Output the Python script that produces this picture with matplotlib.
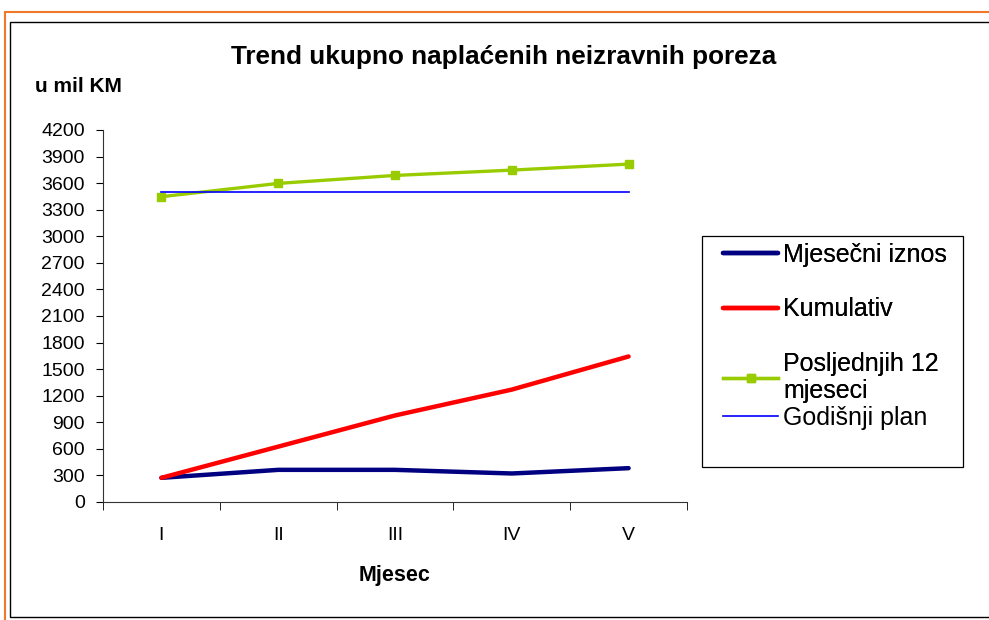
import matplotlib.pyplot as plt
from matplotlib.patches import Rectangle

plt.rcParams['font.family'] = ['Liberation Sans', 'DejaVu Sans']

months = ['I', 'II', 'III', 'IV', 'V']
mjesecni = [273, 363, 363, 322, 382]
kumulativ = [273, 625, 977, 1269, 1643]
posljednjih12 = [3447, 3597, 3687, 3747, 3815]
plan = [3500, 3500, 3500, 3500, 3500]
yticks = list(range(0, 4201, 300))

W, H = 989, 620
fig = plt.figure(figsize=(W / 100, H / 100), dpi=100)

# outer frames (orange page frame, black chart frame)
fig.patches.append(Rectangle((5 / W, -0.1), 1.2, 1 - 12 / H + 0.1, transform=fig.transFigure,
                             fill=False, edgecolor='#f07828', linewidth=1.5))
fig.patches.append(Rectangle((10 / W, 3 / H), 1.2, 1 - 25 / H, transform=fig.transFigure,
                             fill=False, edgecolor='black', linewidth=1.0))

ax = fig.add_axes([103 / W, 1 - 502 / H, 584 / W, 372 / H])
x = list(range(1, len(months) + 1))
l1, = ax.plot(x, mjesecni, color='#000080', lw=3.2, solid_capstyle='round', label='Mjesečni iznos')
l2, = ax.plot(x, kumulativ, color='#ff0000', lw=3.2, solid_capstyle='round', label='Kumulativ')
l3, = ax.plot(x, posljednjih12, color='#99cc00', lw=2.4, marker='s', ms=5.5,
              label='Posljednjih 12\nmjeseci')
l4, = ax.plot(x, plan, color='#0000ff', lw=1.2, label='Godišnji plan')

ax.set_xlim(0.5, len(months) + 0.5)
ax.set_ylim(0, 4200)
ax.set_yticks(yticks)
ax.tick_params(axis='y', labelsize=14, length=5, direction='out', pad=8)
ax.set_xticks(x)
ax.set_xticklabels(months)
ax.set_xticks([i + 0.5 for i in range(len(months) + 1)], minor=True)
ax.tick_params(axis='x', which='major', length=0, labelsize=14, pad=18)
ax.tick_params(axis='x', which='minor', length=6, direction='out')
for s in ['top', 'right']:
    ax.spines[s].set_visible(False)
for s in ['left', 'bottom']:
    ax.spines[s].set_color('#333333')

fig.text(504 / W, 1 - 57 / H, 'Trend ukupno naplaćenih neizravnih poreza',
         ha='center', va='center', fontsize=18.8, fontweight='bold')
fig.text(35 / W, 1 - 87 / H, 'u mil KM', ha='left', va='center', fontsize=15, fontweight='bold')
fig.text(395 / W, 1 - 575 / H, 'Mjesec', ha='center', va='center', fontsize=15.5, fontweight='bold')

# legend: frame drawn separately, entries in two groups like the original spacing
fig.patches.append(Rectangle((702 / W, 1 - 467 / H), 261 / W, 231 / H, transform=fig.transFigure,
                             fill=False, edgecolor='black', linewidth=0.9))
leg_kw = dict(loc='upper left', bbox_transform=fig.transFigure, frameon=False, fontsize=18,
              handlelength=2.2, handletextpad=0.2, labelspacing=1.22, borderpad=0,
              borderaxespad=0)
leg1 = fig.legend(handles=[l1, l2, l3], bbox_to_anchor=(723 / W, 1 - 243 / H), **leg_kw)
leg1.get_texts()[2].set_linespacing(1.15)
fig.add_artist(leg1)
fig.legend(handles=[l4], bbox_to_anchor=(723 / W, 1 - 406 / H), **leg_kw)

fig.savefig('out.png', dpi=100)
